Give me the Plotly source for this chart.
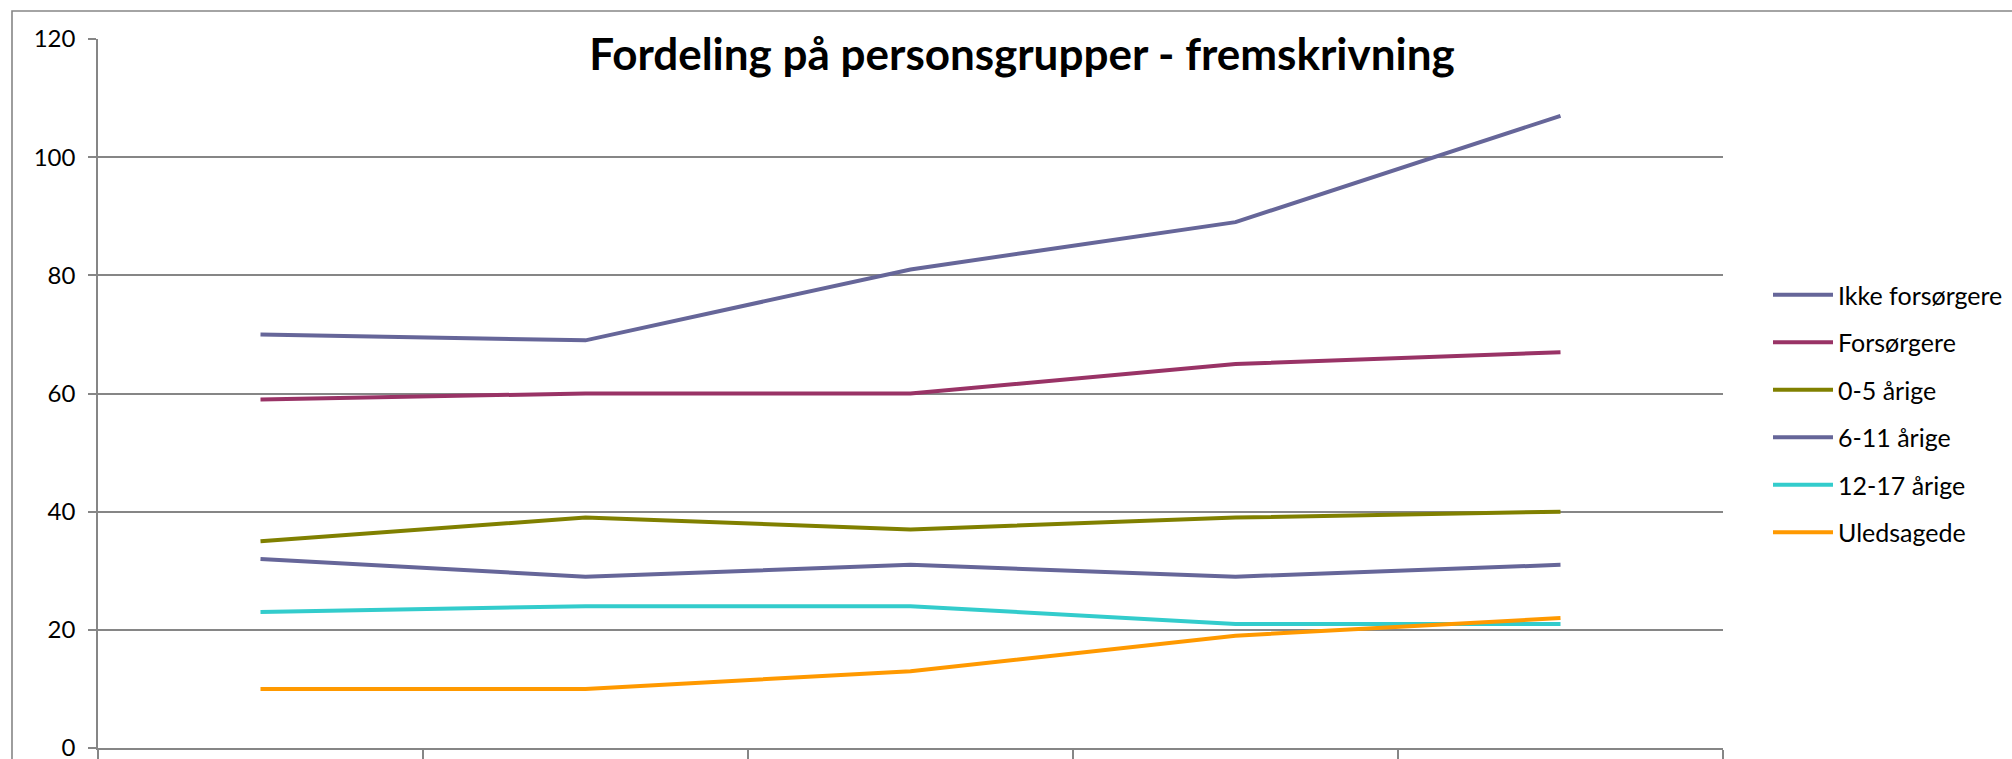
import plotly.graph_objects as go

# Data (x-axis category labels are outside the visible picture)
categories = ["1", "2", "3", "4", "5"]
series_names = ["Ikke forsørgere", "Forsørgere", "0-5 årige", "6-11 årige", "12-17 årige", "Uledsagede"]
ikke_forsorgere = [70, 69, 81, 89, 107]
forsorgere = [59, 60, 60, 65, 67]
aarige_0_5 = [35, 39, 37, 39, 40]
aarige_6_11 = [32, 29, 31, 29, 31]
aarige_12_17 = [23, 24, 24, 21, 21]
uledsagede = [10, 10, 13, 19, 22]
y_ticks = [0, 20, 40, 60, 80, 100, 120]

series_values = [ikke_forsorgere, forsorgere, aarige_0_5, aarige_6_11, aarige_12_17, uledsagede]
colors = ["#666699", "#993366", "#808000", "#666699", "#33CCCC", "#FF9900"]

W, H = 2012, 759
L, R, T, B = 98, 289, 39, 11
pw, ph = W - L - R, H - T - B

FONT = "Lato"
GRID = "#868686"

fig = go.Figure()
for i, (name, vals, col) in enumerate(zip(series_names, series_values, colors)):
    fig.add_trace(go.Scatter(
        x=categories, y=vals, name=name, mode="lines",
        line=dict(color=col, width=4),
        legendgroup=f"g{i}",
        hoverinfo="skip",
    ))

def px_to_paper_x(px):
    return (px - L) / pw

def px_to_paper_y(py):
    return (H - B - py) / ph

# outer chart frame
fig.add_shape(type="rect", xref="paper", yref="paper",
              x0=px_to_paper_x(12), x1=px_to_paper_x(W + 40),
              y0=px_to_paper_y(H + 40), y1=px_to_paper_y(11),
              line=dict(color=GRID, width=1.6), fillcolor="rgba(0,0,0,0)", layer="below")

fig.update_layout(
    width=W, height=H,
    margin=dict(l=L, r=R, t=T, b=B, autoexpand=False),
    paper_bgcolor="white", plot_bgcolor="white",
    font=dict(family=FONT, color="black"),
    title=dict(text="<b>Fordeling på personsgrupper - fremskrivning</b>",
               x=1022 / W, xanchor="center", xref="container",
               y=1 - 55 / H, yanchor="middle", yref="container",
               font=dict(family=FONT, size=44, color="black")),
    showlegend=True,
    legend=dict(x=px_to_paper_x(1768), xanchor="left",
                y=px_to_paper_y(413.5), yanchor="middle",
                traceorder="grouped", tracegroupgap=12,
                itemwidth=60,
                font=dict(family=FONT, size=25, color="black"),
                bgcolor="rgba(0,0,0,0)", borderwidth=0),
    xaxis=dict(type="category", range=[-0.5, 4.5],
               showgrid=False, zeroline=False,
               tickson="boundaries", ticks="outside", ticklen=12,
               tickcolor=GRID, tickwidth=1.6,
               showticklabels=False,
               showline=True, linecolor=GRID, linewidth=1.6),
    yaxis=dict(range=[0, 120], tickvals=y_ticks,
               showgrid=True, gridcolor=GRID, gridwidth=1.6,
               zeroline=False,
               ticks="outside", ticklen=8, tickcolor=GRID, tickwidth=1.6,
               ticklabelstandoff=8, ticklabeloverflow="allow",
               showline=True, linecolor=GRID, linewidth=1.6,
               tickfont=dict(family=FONT, size=24, color="black")),
)

fig.write_html("out.html", config={"displayModeBar": False},
               post_script="document.body.style.margin='0';document.body.style.overflow='hidden';")
